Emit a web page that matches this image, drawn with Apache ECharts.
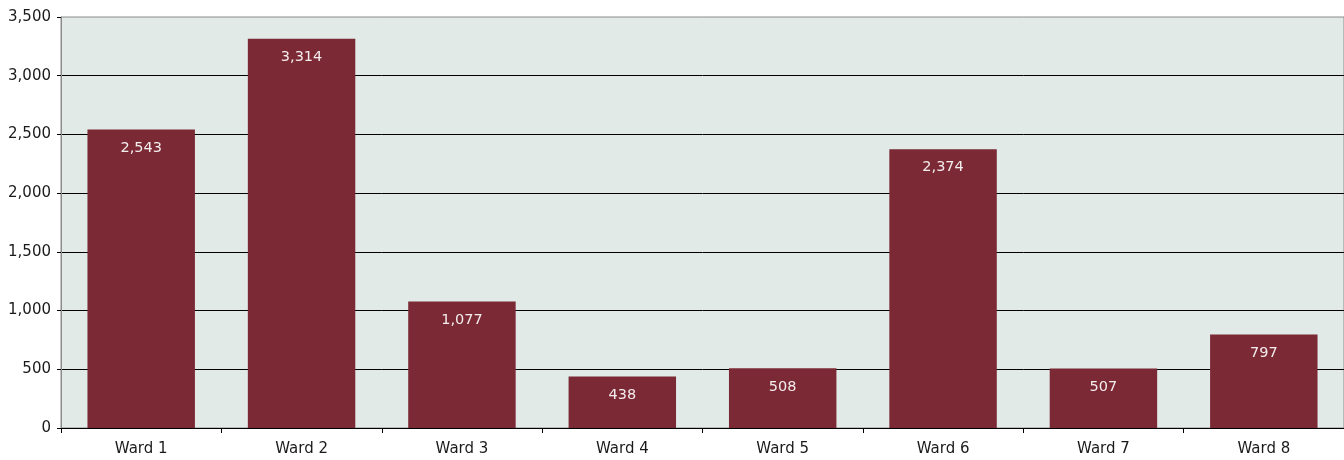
<!DOCTYPE html>
<html>
<head>
<meta charset="utf-8">
<style>
  html, body { margin: 0; padding: 0; background: #fff; }
  #chart { width: 1344px; height: 460px; }
</style>
<script src="https://cdn.jsdelivr.net/npm/echarts@6/dist/echarts.min.js"></script>
</head>
<body>
<div id="chart"></div>
<script>
// data
const wards = ["Ward 1", "Ward 2", "Ward 3", "Ward 4", "Ward 5", "Ward 6", "Ward 7", "Ward 8"];
const counts = [2543, 3314, 1077, 438, 508, 2374, 507, 797];

const barColor = "#7a2935";
const fmt = (v) => Number(v).toLocaleString("en-US");

const myChart = echarts.init(document.getElementById("chart"));

const options = {
  animation: false,
  textStyle: { fontFamily: "DejaVu Sans, sans-serif" },
  grid: {
    left: 61,
    right: 0,
    top: 17,
    bottom: 32,
    show: true,
    backgroundColor: "#e1eae7",
    borderColor: "#8a8a8a",
    borderWidth: 1,
  },
  xAxis: {
    type: "category",
    data: wards,
    boundaryGap: true,
    axisLine: { show: true, lineStyle: { color: "#000", width: 1 } },
    axisTick: { show: true, length: 5, lineStyle: { color: "#000" } },
    axisLabel: { color: "#1a1a1a", fontSize: 15, margin: 14 },
  },
  yAxis: {
    type: "value",
    min: 0,
    max: 3500,
    interval: 500,
    axisLine: { show: true, lineStyle: { color: "#8a8a8a", width: 1 } },
    axisTick: { show: true, length: 4, lineStyle: { color: "#000" } },
    axisLabel: { color: "#1a1a1a", fontSize: 15, margin: 10, formatter: fmt },
    splitLine: { show: true, showMaxLine: false, lineStyle: { color: "#000", width: 1 } },
  },
  series: [
    {
      type: "bar",
      data: counts,
      barWidth: "67%",
      itemStyle: { color: barColor },
      label: {
        show: true,
        position: "insideTop",
        distance: 11,
        color: "#f4eded",
        fontSize: 14.5,
        formatter: (p) => fmt(p.value),
      },
    },
  ],
};

myChart.setOption(options);
</script>
</body>
</html>
